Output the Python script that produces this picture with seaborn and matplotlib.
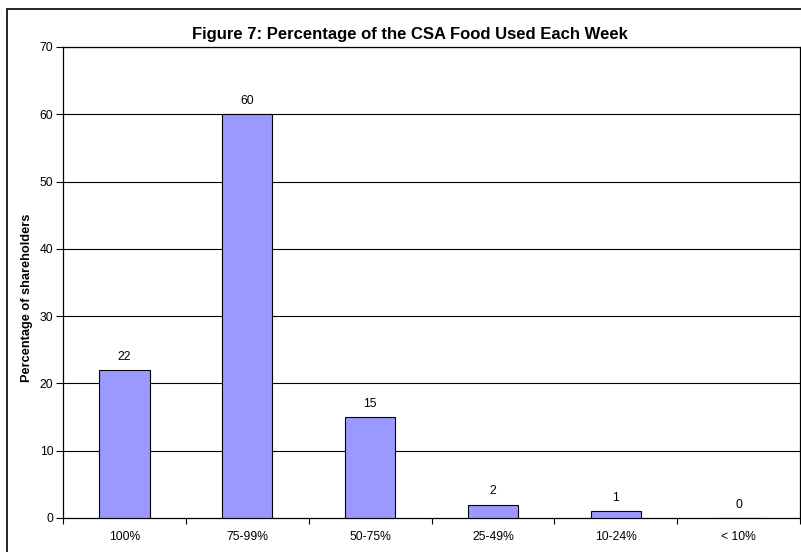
import matplotlib
matplotlib.use("Agg")
import matplotlib.pyplot as plt
import seaborn as sns
import pandas as pd
from matplotlib.patches import Rectangle

categories = ["100%", "75-99%", "50-75%", "25-49%", "10-24%", "< 10%"]
values = [22, 60, 15, 2, 1, 0]
yticks = [0, 10, 20, 30, 40, 50, 60, 70]

sns.set_theme(style="white")
plt.rcParams['font.family'] = ['Liberation Sans', 'DejaVu Sans']
plt.rcParams['text.color'] = 'black'
plt.rcParams['xtick.color'] = 'black'
plt.rcParams['ytick.color'] = 'black'
plt.rcParams['axes.labelcolor'] = 'black'

W, H = 801, 552
fig = plt.figure(figsize=(W / 100, H / 100), dpi=100)
fig.patch.set_facecolor("white")

# outer chart border (right and bottom edges fall outside the image)
fig.patches.append(Rectangle((7 / W, -0.1), 1.2, (H - 9) / H + 0.1, transform=fig.transFigure,
                             fill=False, edgecolor="black", linewidth=1.2, zorder=0))

ax = fig.add_axes([63 / W, (H - 518) / H, (800 - 63) / W, (518 - 47) / H])
df = pd.DataFrame({"cat": categories, "val": values})
sns.barplot(data=df, x="cat", y="val", ax=ax, color="#9999FF", saturation=1,
            edgecolor="black", linewidth=0.8, width=0.41, zorder=3)

fs = 8.7
ax.set_ylim(0, 70)
ax.set_xlim(-0.5, len(categories) - 0.5)
ax.set_yticks(yticks)
ax.set_yticklabels([str(t) for t in yticks], fontsize=fs, color="black")
ax.set_xticks(range(len(categories)))
ax.set_xticklabels(categories, fontsize=fs, color="black")
ax.tick_params(axis="x", length=0, pad=9)
ax.tick_params(axis="y", length=5, width=0.8, color="black", direction="out", left=True, pad=2)
ax.set_xticks([i - 0.5 for i in range(len(categories) + 1)], minor=True)
ax.tick_params(axis="x", which="minor", length=4, width=0.8, color="black", direction="out", bottom=True)

for y in yticks[1:]:
    ax.axhline(y, color="black", linewidth=0.8, zorder=1)

for s in ax.spines.values():
    s.set_color("black")
    s.set_linewidth(0.9)
    s.set_visible(True)

for i, v in enumerate(values):
    ax.text(i, v + 1.1, str(v), ha="center", va="bottom", fontsize=fs, color="black")

ax.set_xlabel("")
ax.set_ylabel("")
fig.text(27 / W, (H - 298) / H, "Percentage of shareholders", rotation=90,
         ha="center", va="center", fontsize=9.2, fontweight="bold", color="black")
fig.text(410 / W, (H - 34) / H, "Figure 7: Percentage of the CSA Food Used Each Week",
         ha="center", va="center", fontsize=12, fontweight="bold", color="black")

fig.savefig("out.png", dpi=100)
